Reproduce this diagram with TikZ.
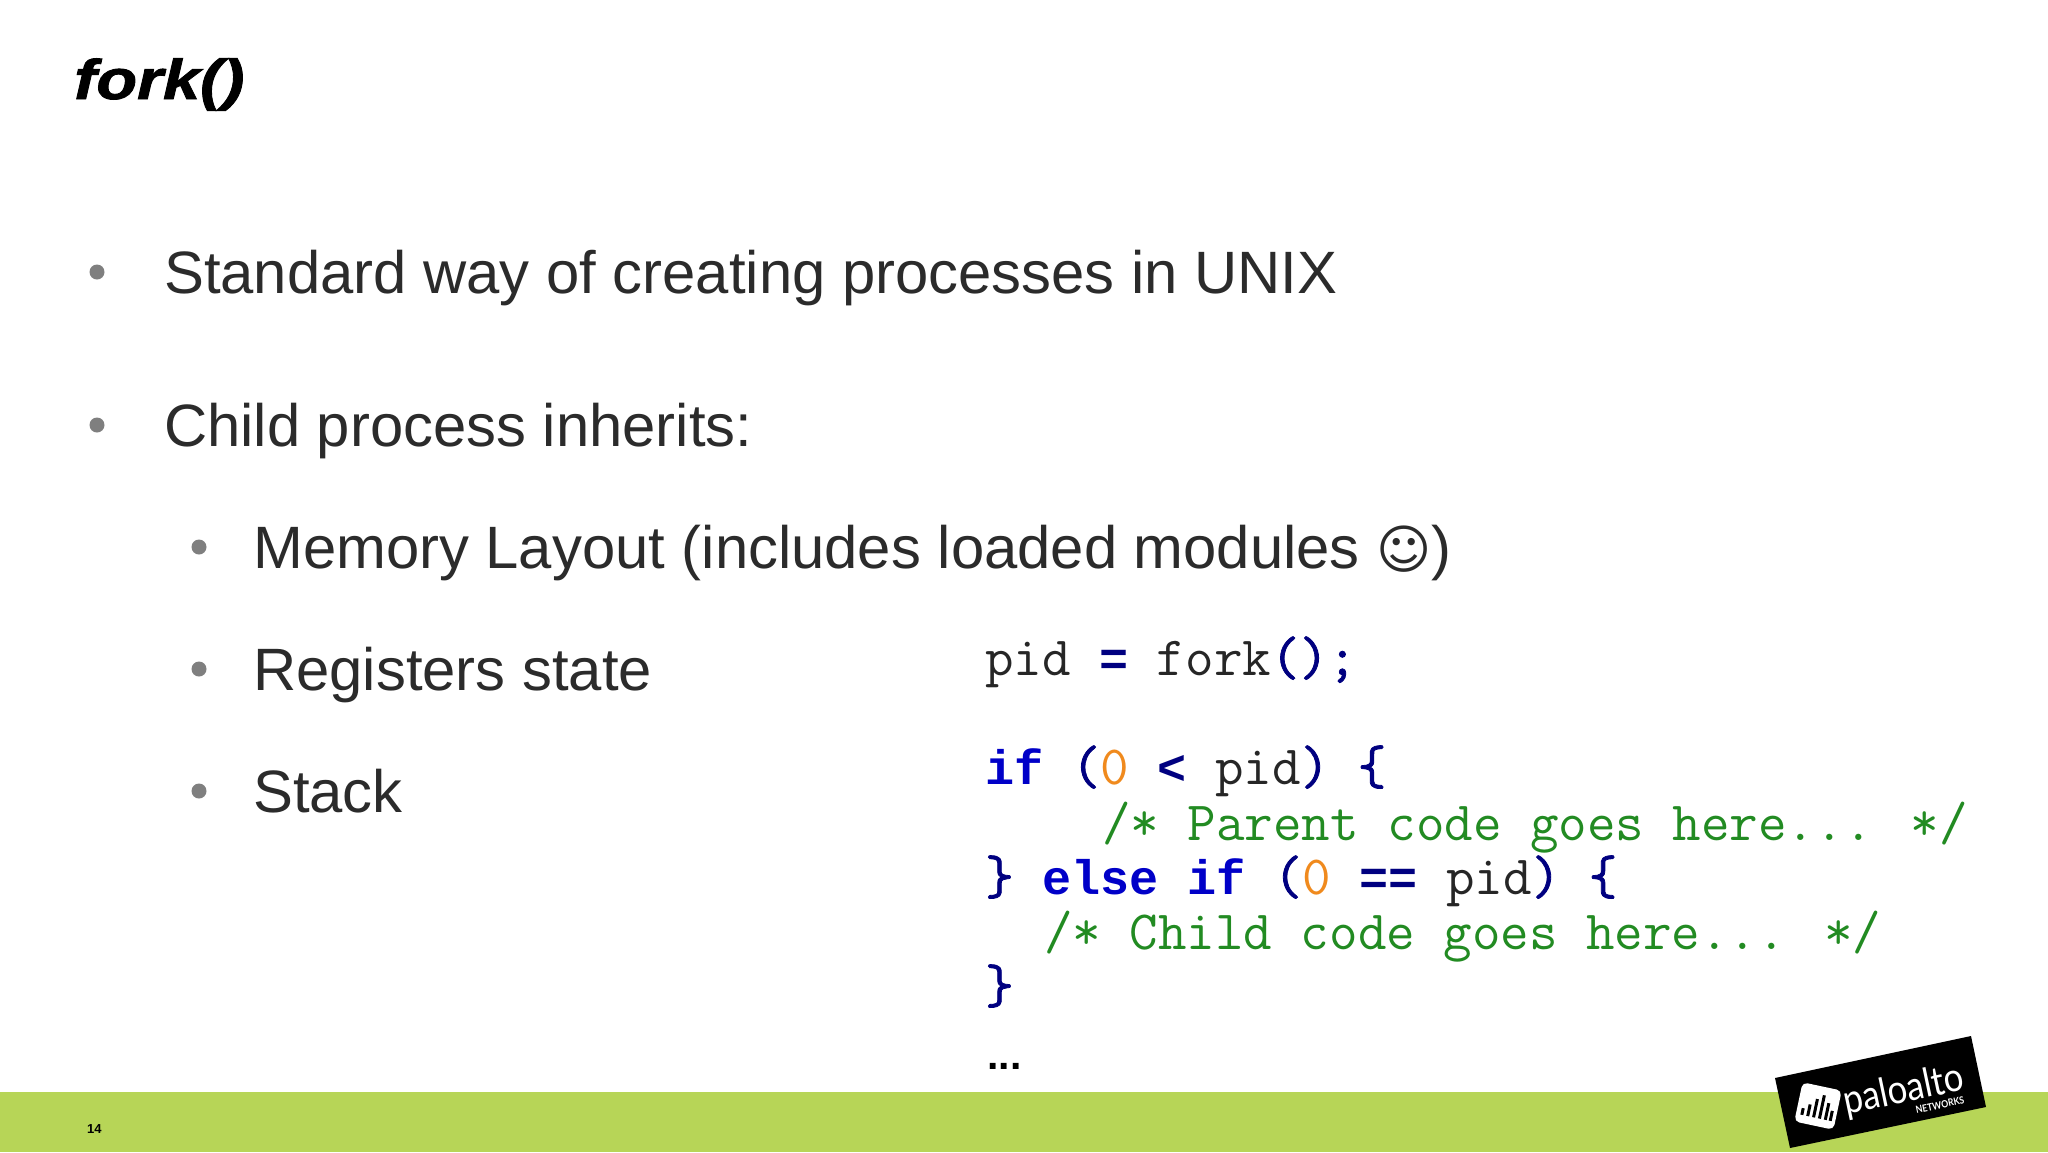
\documentclass[tikz,border=0pt]{standalone}
\usepackage{fontspec}
\setmainfont{Liberation Sans}
\newfontfamily\symf{DejaVu Sans}
\newfontfamily\bmono{Liberation Mono}
\newfontfamily\semimono[FakeBold=1.4]{Latin Modern Mono}
\newfontfamily\titlef[FakeStretch=1.19,FakeBold=1.6]{Liberation Sans}
\newfontfamily\logof[FakeStretch=0.87]{Lato}
\definecolor{barg}{HTML}{B7D557}
\definecolor{txt}{HTML}{2B2B2B}
\definecolor{bul}{HTML}{7F7F7F}
\definecolor{kw}{HTML}{0000C8}
\definecolor{op}{HTML}{000080}
\definecolor{num}{HTML}{F08A1D}
\definecolor{cmt}{HTML}{228B22}
\tikzset{
 body/.style={anchor=base west,text=txt,inner sep=0,font=\fontsize{59.8}{66}\selectfont},
 dot/.style={circle,fill=bul,inner sep=0,minimum size=15pt},
 code/.style={anchor=base west,inner sep=0,text=black!85,font=\ttfamily\fontsize{55.4}{60}\selectfont},
 logotxt/.style={inner sep=0,text=white,rotate=12}
}
\newcommand{\K}[1]{\textcolor{kw}{\bmono\fontsize{48.47}{60}\selectfont\bfseries #1}}
\newcommand{\Op}[1]{\textcolor{op}{\bmono\fontsize{48.47}{60}\selectfont\bfseries #1}}
\newcommand{\Br}[1]{\textcolor{op}{\semimono\fontsize{55.4}{60}\selectfont #1}}
\newcommand{\N}[1]{\textcolor{num}{#1}}
\newcommand{\Cm}[1]{\textcolor{cmt}{#1}}
\begin{document}
\begin{tikzpicture}[x=1pt,y=-1pt]
\useasboundingbox (0,0) rectangle (2048,1152);
\fill[white] (0,0) rectangle (2048,1152);
\fill[barg] (0,1092) rectangle (2048,1152);
\node[anchor=base west,inner sep=0,font=\titlef\fontsize{56}{60}\selectfont\bfseries\itshape] (title) at (74,99) {fork()};
\node[dot] (b1) at (97,272) {};
\node[body] (t1) at (164,293) {Standard way of creating processes in UNIX};
\node[dot] (b2) at (97,425) {};
\node[body] (t2) at (164,446) {Child process inherits:};
\node[dot] (b3) at (199,547) {};
\node[body] (t3) at (253,568) {Memory Layout (includes loaded modules {\symf\fontsize{53}{60}\selectfont ☺})};
\node[dot] (b4) at (199,669) {};
\node[body] (t4) at (253,690) {Registers state};
\node[dot] (b5) at (199,791) {};
\node[body] (t5) at (253,812) {Stack};
\node[code] (c1) at (985,675) {pid \Op{=} fork\Br{();}};
\node[code] (c2) at (985,784) {\K{if} \Br{(}\N{0} \Op{<} pid\Br{)} \Br{\{}};
\node[code] (c3) at (1102,840) {\Cm{/* Parent code goes here... */}};
\node[code] (c4) at (985,894) {\Br{\}} \K{else} \K{if} \Br{(}\N{0} \Op{==} pid\Br{)} \Br{\{}};
\node[code] (c5) at (1044,949) {\Cm{/* Child code goes here... */}};
\node[code] (c6) at (985,1003) {\Br{\}}};
\node[anchor=base west,inner sep=0,font=\fontsize{41}{48}\selectfont\bfseries] (c7) at (987,1069) {...};
\node[anchor=base west,inner sep=0,font=\fontsize{13}{15}\selectfont\bfseries] (pg) at (87,1133) {14};
\fill[black] (1775,1078) -- (1971,1036) -- (1986,1107) -- (1790,1148) -- cycle;
\begin{scope}[shift={(1818,1106)},rotate=-12]
\fill[white,rounded corners=5pt] (-20,-20) rectangle (20,20);
\foreach \x/\h in {-14/4,-8/7,-2/11,4/14,10/10,15/6}
  \fill[black] (\x-1.5,12-\h*1.7) rectangle (\x+1.5,12);
\end{scope}
\node[logotxt,font=\logof\fontsize{40}{50}\selectfont] (logo) at (1904,1091) {paloalto};
\node[logotxt,font=\logof\fontsize{10}{12}\selectfont\bfseries] (logo2) at (1940,1105) {NETWORKS};
\end{tikzpicture}
\end{document}
